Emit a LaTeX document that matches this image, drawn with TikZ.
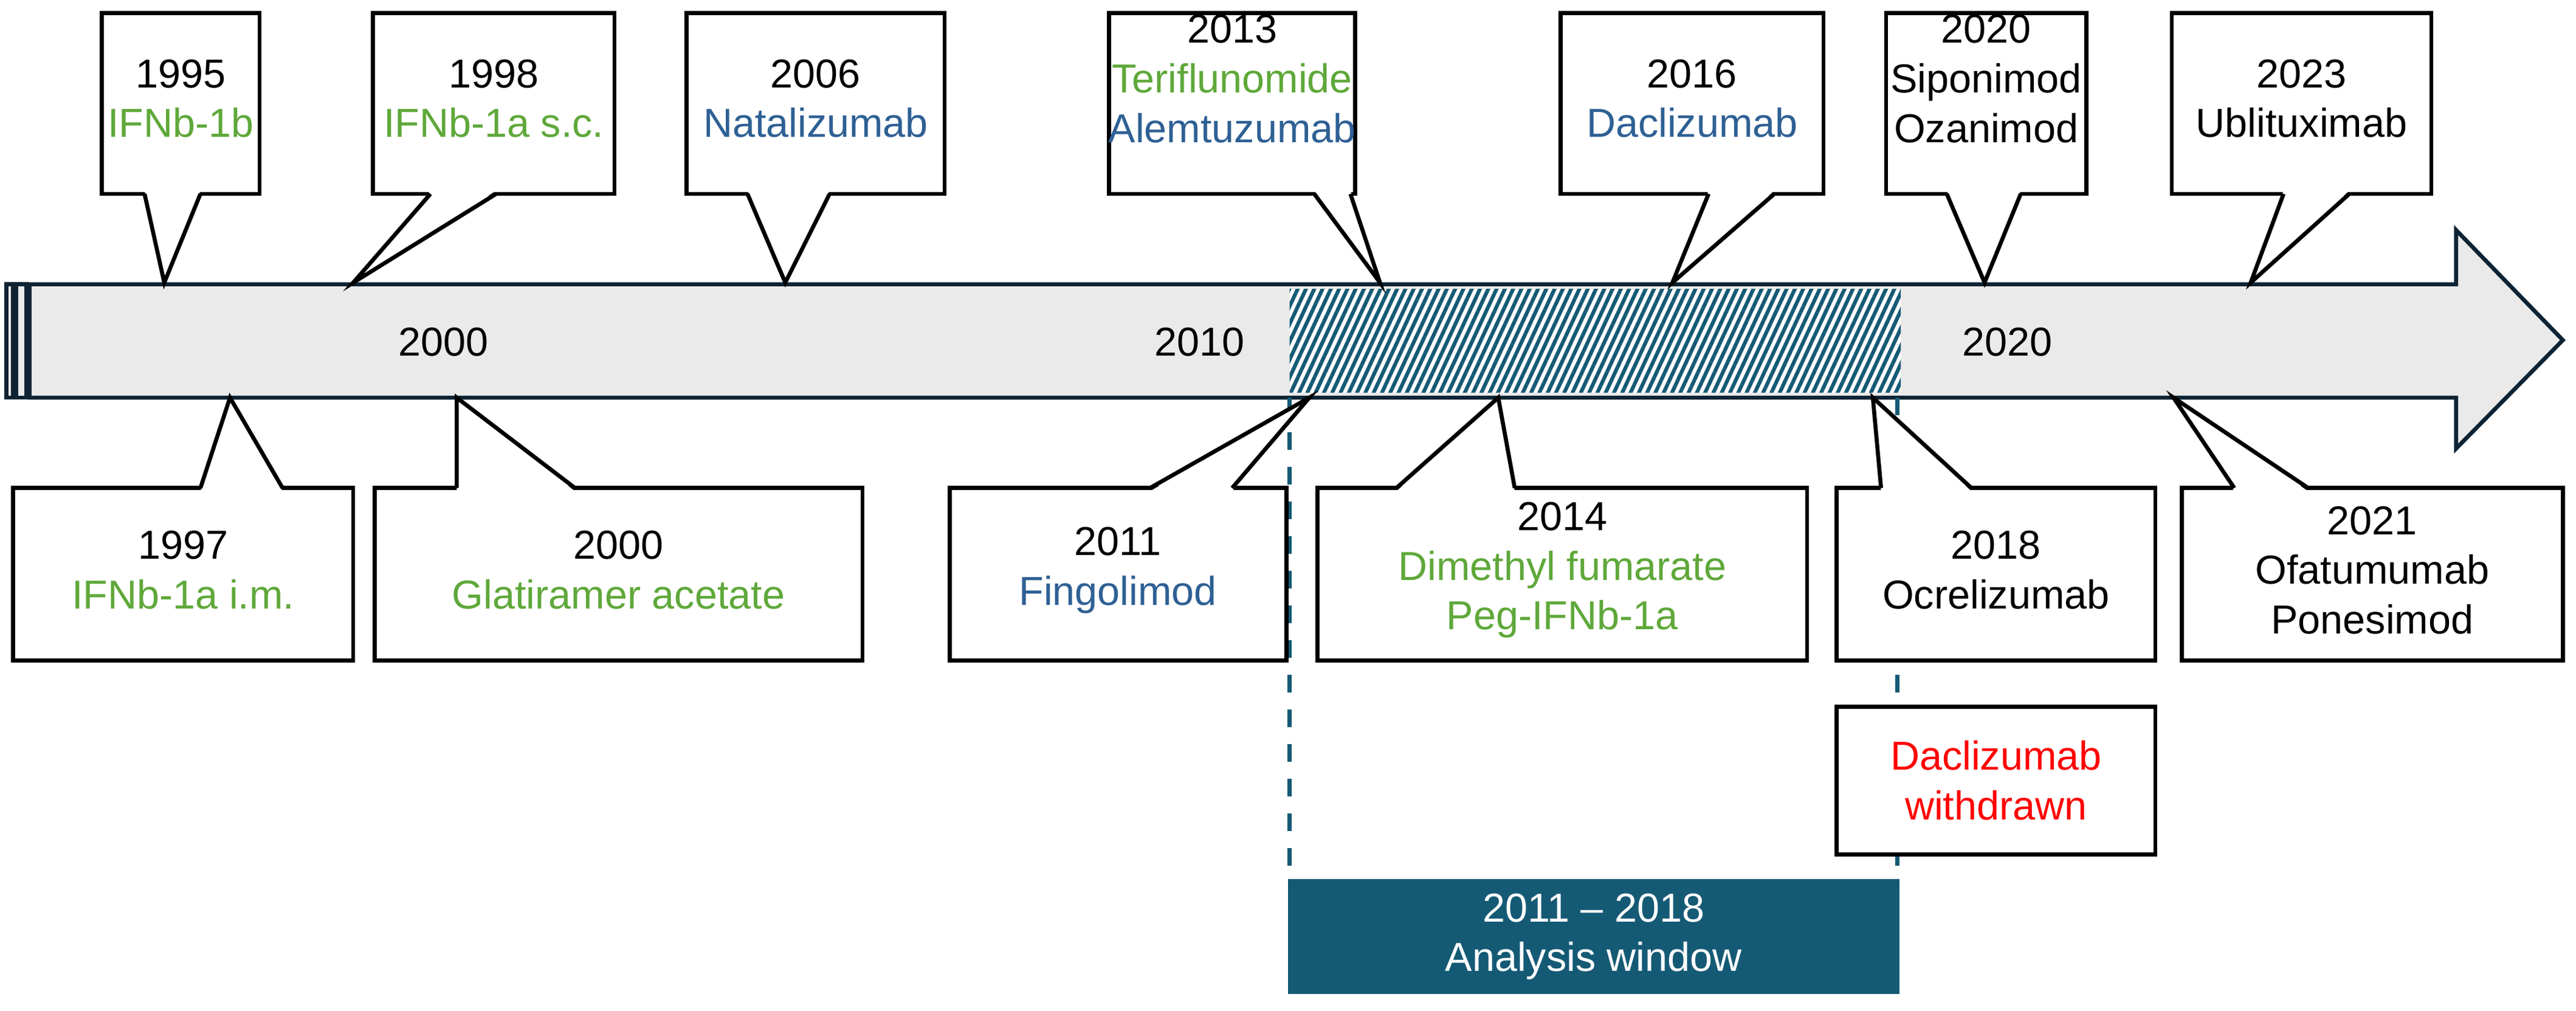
\documentclass[tikz,border=0pt]{standalone}
\usepackage{fontspec}
\setmainfont{Liberation Sans}
\usetikzlibrary{patterns.meta}
\definecolor{drugG}{HTML}{5FA83A}
\definecolor{drugB}{HTML}{2E6094}
\definecolor{navy}{HTML}{0E2333}
\definecolor{teal}{HTML}{155A75}
\definecolor{bar}{HTML}{EAEAEA}
\tikzset{
  callline/.style={line width=0.7pt, black, line join=miter},
  lbl/.style={align=center, inner sep=0pt, font=\fontsize{7}{8.6}\selectfont},
  yearlbl/.style={inner sep=0pt, font=\fontsize{7}{8.6}\selectfont},
}
% callout above the bar: name, x1, x2, base1, base2, tip x, text
\newcommand{\upcall}[7]{%
  \draw[callline, fill=white] (#2,8) rectangle (#3,118);
  \coordinate (#1-tip) at (#6,172);
  \fill[white] (#4,116) -- (#1-tip) -- (#5,116) -- cycle;
  \draw[callline] (#4,118) -- (#1-tip) -- (#5,118);
  \node[lbl] (#1) at ({(#2+#3)/2},60) {#7};}
% callout below the bar
\newcommand{\downcall}[7]{%
  \draw[callline, fill=white] (#2,297) rectangle (#3,402);
  \coordinate (#1-tip) at (#6,242);
  \fill[white] (#4,299) -- (#1-tip) -- (#5,299) -- cycle;
  \draw[callline] (#4,297) -- (#1-tip) -- (#5,297);
  \node[lbl] (#1) at ({(#2+#3)/2},347) {#7};}
\begin{document}
\begin{tikzpicture}[x=0.01cm, y=-0.01cm]
  \useasboundingbox (0,0) rectangle (1568,615);

  % timeline arrow
  \draw[navy, line width=0.7pt, fill=bar] (4,173) rectangle (8,242);
  \draw[navy, line width=0.7pt, fill=bar] (10,173) rectangle (16,242);
  \draw[navy, line width=0.7pt, fill=bar, line join=miter]
    (18,173) -- (1495,173) -- (1495,140) -- (1560,207) -- (1495,273)
    -- (1495,242) -- (18,242) -- cycle;

  % analysis window on the bar
  \fill[white] (785,176) rectangle (1157,239);
  \fill[pattern={Lines[angle=65, distance=1.3pt, line width=0.65pt]}, pattern color=teal]
    (785,176) rectangle (1157,239);

  \node[yearlbl] (y2000) at (270,208) {2000};
  \node[yearlbl] (y2010) at (730,208) {2010};
  \node[yearlbl] (y2020) at (1222,208) {2020};

  \upcall{c1995}{62}{158}{88}{122}{100}{1995\\\textcolor{drugG}{IFNb-1b}}
  \upcall{c1998}{227}{374}{262}{302}{215}{1998\\\textcolor{drugG}{IFNb-1a s.c.}}
  \upcall{c2006}{418}{575}{455}{505}{478}{2006\\\textcolor{drugB}{Natalizumab}}
  \upcall{c2013}{675}{825}{800}{822}{840}{}
  \node[lbl] (t2013) at (750,48) {2013\\\textcolor{drugG}{Teriflunomide}\\\textcolor{drugB}{Alemtuzumab}};
  \upcall{c2016}{950}{1110}{1040}{1080}{1018}{2016\\\textcolor{drugB}{Daclizumab}}
  \upcall{c2020}{1148}{1270}{1185}{1230}{1208}{}
  \node[lbl] (t2020) at (1209,48) {2020\\Siponimod\\Ozanimod};
  \upcall{c2023}{1322}{1480}{1390}{1430}{1370}{2023\\Ublituximab}

  % analysis window bounds
  \coordinate (win-l) at (785,242);
  \coordinate (win-r) at (1155,242);
  \node[fill=teal, minimum width=3.72cm, minimum height=0.7cm, inner sep=0pt,
        text=white, lbl] (window) at (970,570) {2011 -- 2018\\Analysis window};
  \draw[teal, line width=0.7pt, dashed] (win-l) -- (win-l |- window.north);
  \draw[teal, line width=0.7pt, dashed] (win-r) -- (win-r |- window.north);

  \downcall{c1997}{8}{215}{122}{172}{140}{1997\\\textcolor{drugG}{IFNb-1a i.m.}}
  \downcall{c2000}{228}{525}{278}{350}{278}{2000\\\textcolor{drugG}{Glatiramer acetate}}
  \downcall{c2011}{578}{783}{700}{750}{797}{2011\\\textcolor{drugB}{Fingolimod}}
  \downcall{c2014}{802}{1100}{850}{922}{912}{2014\\\textcolor{drugG}{Dimethyl fumarate}\\\textcolor{drugG}{Peg-IFNb-1a}}
  \downcall{c2018}{1118}{1312}{1145}{1200}{1140}{2018\\Ocrelizumab}
  \downcall{c2021}{1328}{1560}{1360}{1405}{1323}{2021\\Ofatumumab\\Ponesimod}

  \draw[callline, fill=white] (1118,430) rectangle (1312,520);
  \node[lbl, text=red] (withdrawn) at (1215,475) {Daclizumab\\withdrawn};
\end{tikzpicture}
\end{document}
